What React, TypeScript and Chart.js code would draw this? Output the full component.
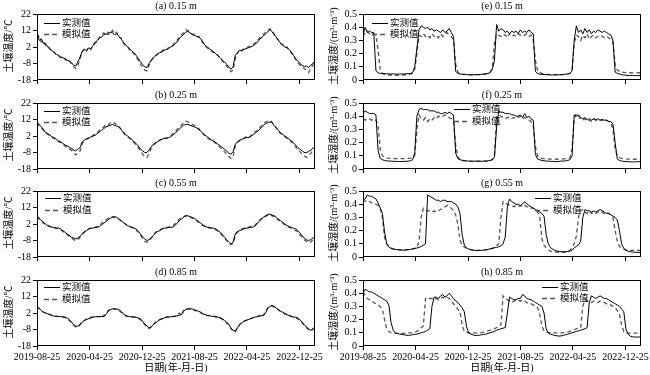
import React, { useEffect, useRef } from 'react';
import { Chart, registerables } from 'chart.js';

Chart.register(...registerables);

// ---------------- data ----------------
// sampling positions: days since 2019-08-25, every 10 days
const dayOffsets: number[] = Array.from({ length: 130 }, (_, i) => i * 10);
const dateTickDays = [0, 244, 488, 731, 974, 1218];
const dateTickLabels = ['2019-08-25', '2020-04-25', '2020-12-25', '2021-08-25', '2022-04-25', '2022-12-25'];
const tempTicks = [-18, -8, 2, 12, 22];
const moistTicks = [0, 0.1, 0.2, 0.3, 0.4, 0.5];

const tempObs015 = [
  11, 6, 7, 4, 4, 2, 0.5, 0, -1.5, -2.5,
  -3, -4, -4.5, -5, -6, -6.5, -7.5, -9, -9.5, -7,
  -4, -0.5, 0.5, 0, 1.5, 1, 3, 4, 6, 7.5,
  8, 9.5, 10, 9.5, 11, 10.5, 9.5, 10, 8.5, 7,
  5, 3.5, 2, 1, -0.5, -1.5, -3, -5, -7, -8.5,
  -10, -10.5, -8, -6, -4.5, -3.5, -2, -1.5, -1, 0,
  0.5, 1, 2, 2.5, 4, 5, 7, 8.5, 9.5, 11,
  11.5, 10.5, 9.5, 9, 8.5, 8, 7, 5, 3, 2,
  1, 0, -1, -2, -3.5, -4.5, -6, -7, -8.5, -10,
  -11.5, -10, -3, -1.5, 0, 0, 0.5, 1, 1.5, 2,
  2.5, 3.5, 4.5, 6, 7.5, 8.5, 10, 11, 12.5, 11.5,
  9.5, 8, 6, 4.5, 3, 2, 1.5, 0.5, -1, -3,
  -5, -6.5, -8, -9, -10, -9.5, -10.5, -9, -8, -6.5,
];
const tempSim015 = [
  10, 8, 5, 6, 3, 3, 1, -0.5, -1, -3,
  -3.5, -4.5, -4, -5.5, -6.5, -6, -8.5, -10, -11, -9,
  -5, -1, 1, -0.5, 2, 0.5, 3.5, 5, 5.5, 8,
  9, 10.5, 9, 11, 10, 12, 10, 11, 8, 7.5,
  4.5, 3, 2.5, 0, -1, -2, -4, -6, -8.5, -10,
  -12, -12.5, -9, -6.5, -4, -3, -2.5, -1, -0.5, 0.5,
  0, 1.5, 2.5, 3, 5, 6, 8, 9.5, 10.5, 12.5,
  12, 11, 10, 9.5, 8, 8.5, 6.5, 4.5, 2.5, 1.5,
  0.5, -0.5, -1.5, -2.5, -3, -5, -6.5, -8, -9.5, -11,
  -13, -12, -5, -2, 0.5, -0.5, 1, 1.5, 2, 2.5,
  3.5, 4, 5.5, 7, 8.5, 9.5, 11, 12, 13, 12,
  10, 7.5, 6.5, 4, 3.5, 1.5, 2, 0, -1.5, -3.5,
  -5.5, -7.5, -9, -10.5, -11, -12, -13.5, -11, -9, -7,
];
const tempObs025 = [
  10.5, 9, 7.5, 6, 4, 3.5, 2.5, 1.5, 1, 0,
  -1, -1.5, -2.5, -3.5, -4, -5, -5.5, -6.5, -7, -6,
  -5, -1.5, -0.5, 0.5, 0.5, 1.5, 2, 2.5, 3.5, 4.5,
  5.5, 6.5, 7.5, 8, 8.5, 9, 8.5, 8, 7.5, 6,
  4.5, 3, 2, 1, 0, -1.5, -2.5, -4, -6, -7,
  -8, -8, -6.5, -4.5, -3, -2, -1.5, -0.5, 0, 0.5,
  0.5, 1, 1.5, 2.5, 3.5, 5, 6, 7.5, 8.5, 9,
  9, 8.5, 8, 7.5, 7, 6, 5, 3.5, 2.5, 1.5,
  0.5, -0.5, -1, -2, -3, -4, -5, -6, -7, -8.5,
  -9, -7.5, -3, -1.5, -0.5, 0, 0.5, 1, 1, 1.5,
  2.5, 3.5, 4.5, 5.5, 7, 8.5, 9.5, 10, 10.5, 10,
  8.5, 7, 5.5, 4, 3, 2, 1, 0, -1, -2,
  -3.5, -5, -6, -7, -8, -8, -7.5, -6.5, -5.5, -4.5,
];
const tempSim025 = [
  10, 8, 7, 5.5, 4.5, 3, 2, 1, 0.5, -0.5,
  -1.5, -2, -3, -4, -5, -6, -6.5, -8, -9.5, -8.5,
  -7, -2.5, -1, 0, 1, 1, 2.5, 3, 4, 5.5,
  6.5, 7.5, 9, 8.5, 10, 9.5, 10, 8.5, 8, 6,
  4, 2.5, 1.5, 0.5, -0.5, -2, -3.5, -5, -7, -9,
  -10.5, -11, -8.5, -5.5, -3.5, -2.5, -1.5, -0.5, 0, 1,
  0.5, 1.5, 2, 3.5, 4.5, 6, 7.5, 8.5, 10, 11,
  10.5, 10, 9, 8.5, 7.5, 6.5, 5, 3.5, 2, 1,
  0, -1, -1.5, -2.5, -3.5, -5, -6, -7.5, -9, -10.5,
  -11.5, -10.5, -4, -2, -1, 0, 0.5, 1.5, 1, 2,
  3, 4.5, 5, 6.5, 8, 9, 10.5, 11, 11.5, 10.5,
  9, 7, 5, 3.5, 3, 1.5, 0.5, -0.5, -1.5, -3,
  -4.5, -6, -7.5, -9, -10, -11, -10, -8.5, -7, -5.5,
];
const tempObs055 = [
  7, 5.5, 4, 3, 2, 1, 0.5, 0, 0, -0.5,
  -0.5, -1, -2, -3, -4, -5, -6, -6.5, -7, -6.5,
  -5.5, -4, -2.5, -2, -1, -0.5, -0.5, 0, 0, 0.5,
  1.5, 2.5, 3.5, 4.5, 5.5, 6, 6.5, 6, 5, 4,
  3, 2, 1, 0.5, 0, -0.5, -1, -2.5, -4, -6,
  -7, -8, -7.5, -6.5, -5, -3.5, -2.5, -2, -1, -0.5,
  -0.5, 0, 0, 0, 1, 2.5, 4, 5, 6, 7,
  7, 6.5, 6, 5.5, 4.5, 3.5, 2.5, 1.5, 0.5, 0,
  0, -0.5, -0.5, -1, -2, -3, -4.5, -6, -7.5, -9,
  -10, -9, -4, -2.5, -2, -1.5, -1, -0.5, -0.5, 0,
  0, 0.5, 2, 3.5, 5, 6, 7, 7.5, 8, 7.5,
  7, 6, 5, 4, 3, 2, 1, 0.5, 0, -0.5,
  -1, -2, -3.5, -5, -6.5, -7.5, -8, -7.5, -6.5, -6,
];
const tempSim055 = [
  6.5, 5, 4, 2.5, 1.5, 1, 0.5, 0, -0.5, -0.5,
  -1, -1.5, -2.5, -3.5, -4.5, -5.5, -6.5, -7.5, -8, -7.5,
  -6, -4.5, -3, -1.5, -1, -0.5, 0, 0, 0.5, 1,
  2.5, 3.5, 4.5, 5.5, 6, 6.5, 6, 5.5, 5, 4,
  3, 2, 1, 0.5, 0, -0.5, -1.5, -3, -4.5, -7,
  -8.5, -9, -8, -6.5, -4.5, -3, -2, -1.5, -1, -0.5,
  0, 0, 0.5, 1, 2, 3.5, 5, 6, 6.5, 7,
  6.5, 6, 5.5, 5, 4, 3, 2, 1, 0.5, 0,
  -0.5, -0.5, -1, -1.5, -2.5, -3.5, -5, -6.5, -8, -9.5,
  -10.5, -10, -5, -3, -2, -1, -0.5, 0, 0, 0.5,
  0.5, 1, 2.5, 4, 5, 6, 6.5, 7.5, 8, 7,
  6.5, 5.5, 4.5, 3.5, 2.5, 1.5, 0.5, 0, -0.5, -1,
  -2, -3, -4.5, -6, -7.5, -8.5, -9.5, -9, -7.5, -7,
];
const tempObs085 = [
  6, 5, 3.5, 2.5, 2, 1.5, 1, 0.5, 0, 0,
  -0.2, -0.2, -0.3, -0.5, -1, -2, -3.5, -5, -6, -6,
  -5, -3.5, -2.5, -2, -1.5, -1, -0.5, -0.3, -0.2, -0.2,
  -0.2, 0, 1, 3, 4, 4.5, 4.5, 4.5, 4, 3,
  1.5, 0.5, 0, -0.2, -0.3, -0.5, -0.5, -1, -1.5, -3,
  -4.5, -6, -7, -6.5, -5, -4, -3, -2, -1.5, -1,
  -0.5, -0.5, -0.3, -0.2, 0, 0.3, 0.5, 1, 3, 4,
  4.5, 4.5, 4.5, 4, 3.5, 3, 2.5, 1.5, 1, 0.5,
  0.5, 0, 0, -0.3, -0.5, -0.8, -1.5, -2.5, -3.5, -5,
  -7, -8.5, -9, -7, -5, -4, -3, -2.5, -2, -1.5,
  -1, -0.5, -0.3, 0, 0.3, 0.5, 2, 4.5, 6, 6.5,
  6, 5, 4, 3, 2.5, 1.5, 1, 0.5, 0, -0.5,
  -0.5, -1, -2, -3.5, -5, -6.5, -7.5, -8.5, -7.5, -6.5,
];
const tempSim085 = [
  6, 4.5, 3.5, 2.5, 2, 1.5, 1, 0.5, 0.2, 0,
  0, -0.2, -0.5, -0.8, -1.5, -2.5, -4, -5.5, -6.5, -6.5,
  -5, -3.5, -2.5, -1.5, -1, -0.5, -0.5, -0.3, -0.2, -0.2,
  1, 0, 1.5, 3.5, 4.5, 4.5, 4.5, 4, 3.5, 2.5,
  1.5, 0.5, 0, -0.2, -0.3, -0.5, -0.8, -1.2, -2, -3.5,
  -5, -6.5, -7.5, -6.5, -5, -3.5, -2.5, -2, -1.5, -1,
  -0.5, -0.3, -0.2, 0, 0, 0.3, 2, 0.5, 3.5, 4.5,
  4.5, 4.5, 4, 3.5, 3.5, 3, 2, 1.5, 1, 0.5,
  0.3, 0, 0, -0.3, -0.6, -1, -2, -3, -4, -5.5,
  -7.5, -9, -9.5, -7, -5, -3.5, -3, -2.5, -2, -1.5,
  -1, -0.5, -0.2, 0.3, 1.5, 0.5, 2.5, 5, 6, 6.5,
  5.5, 5, 4, 3, 2.5, 1.5, 1, 0.5, 0, -0.5,
  -1, -1.5, -2.5, -4, -5.5, -7, -8, -9, -8, -7,
];

const moistObs015 = [
  0.34, 0.40, 0.36, 0.37, 0.36, 0.36, 0.07, 0.055, 0.05, 0.05,
  0.048, 0.047, 0.046, 0.045, 0.046, 0.045, 0.044, 0.045, 0.046, 0.045,
  0.047, 0.048, 0.05, 0.055, 0.1, 0.24, 0.38, 0.41, 0.40, 0.39,
  0.40, 0.38, 0.39, 0.37, 0.38, 0.37, 0.36, 0.38, 0.36, 0.37,
  0.39, 0.36, 0.33, 0.065, 0.05, 0.045, 0.044, 0.042, 0.04, 0.04,
  0.038, 0.04, 0.04, 0.042, 0.041, 0.043, 0.045, 0.048, 0.05, 0.055,
  0.08, 0.15, 0.42, 0.37, 0.39, 0.38, 0.36, 0.37, 0.35, 0.37,
  0.36, 0.37, 0.35, 0.38, 0.36, 0.37, 0.36, 0.38, 0.36, 0.35,
  0.065, 0.048, 0.045, 0.043, 0.042, 0.04, 0.04, 0.038, 0.038, 0.04,
  0.039, 0.04, 0.041, 0.042, 0.044, 0.046, 0.05, 0.07, 0.3, 0.41,
  0.36, 0.38, 0.35, 0.39, 0.36, 0.38, 0.35, 0.37, 0.36, 0.38,
  0.37, 0.36, 0.37, 0.36, 0.35, 0.34, 0.3, 0.06, 0.05, 0.045,
  0.04, 0.038, 0.036, 0.035, 0.034, 0.035, 0.033, 0.034, 0.033, 0.034,
];
const moistSim015 = [
  0.33, 0.36, 0.37, 0.35, 0.36, 0.35, 0.34, 0.23, 0.08, 0.05,
  0.042, 0.04, 0.038, 0.038, 0.037, 0.036, 0.036, 0.037, 0.038, 0.038,
  0.04, 0.042, 0.045, 0.05, 0.08, 0.2, 0.34, 0.33, 0.35, 0.33,
  0.34, 0.32, 0.35, 0.33, 0.34, 0.32, 0.35, 0.33, 0.34, 0.36,
  0.34, 0.33, 0.3, 0.12, 0.06, 0.05, 0.045, 0.043, 0.042, 0.04,
  0.04, 0.04, 0.039, 0.04, 0.04, 0.041, 0.042, 0.045, 0.05, 0.06,
  0.09, 0.28, 0.35, 0.34, 0.33, 0.35, 0.34, 0.32, 0.35, 0.33,
  0.34, 0.33, 0.35, 0.34, 0.33, 0.34, 0.35, 0.33, 0.34, 0.3,
  0.15, 0.07, 0.055, 0.05, 0.045, 0.043, 0.042, 0.04, 0.04, 0.04,
  0.039, 0.04, 0.04, 0.041, 0.043, 0.046, 0.05, 0.07, 0.28, 0.34,
  0.33, 0.3, 0.34, 0.32, 0.35, 0.31, 0.33, 0.34, 0.32, 0.33,
  0.34, 0.33, 0.32, 0.33, 0.32, 0.31, 0.28, 0.12, 0.075, 0.065,
  0.06, 0.058, 0.056, 0.055, 0.055, 0.054, 0.055, 0.054, 0.055, 0.055,
];
const moistObs025 = [
  0.42, 0.44, 0.43, 0.42, 0.42, 0.42, 0.41, 0.14, 0.08, 0.07,
  0.065, 0.062, 0.06, 0.06, 0.058, 0.058, 0.057, 0.057, 0.056, 0.058,
  0.058, 0.06, 0.062, 0.07, 0.12, 0.40, 0.45, 0.46, 0.45, 0.45,
  0.45, 0.44, 0.44, 0.44, 0.43, 0.43, 0.42, 0.42, 0.43, 0.42,
  0.43, 0.42, 0.41, 0.12, 0.08, 0.07, 0.066, 0.064, 0.062, 0.06,
  0.06, 0.058, 0.06, 0.06, 0.06, 0.058, 0.06, 0.06, 0.062, 0.065,
  0.07, 0.09, 0.32, 0.44, 0.43, 0.43, 0.42, 0.42, 0.42, 0.41,
  0.41, 0.40, 0.40, 0.41, 0.39, 0.42, 0.39, 0.40, 0.38, 0.37,
  0.11, 0.075, 0.07, 0.065, 0.062, 0.06, 0.06, 0.058, 0.058, 0.056,
  0.056, 0.058, 0.06, 0.06, 0.062, 0.065, 0.07, 0.1, 0.41, 0.40,
  0.41, 0.39, 0.38, 0.39, 0.375, 0.38, 0.37, 0.38, 0.375, 0.38,
  0.37, 0.375, 0.37, 0.37, 0.36, 0.36, 0.34, 0.2, 0.075, 0.065,
  0.06, 0.058, 0.056, 0.055, 0.055, 0.054, 0.054, 0.055, 0.055, 0.056,
];
const moistSim025 = [
  0.38, 0.37, 0.38, 0.38, 0.37, 0.38, 0.37, 0.33, 0.15, 0.1,
  0.09, 0.085, 0.082, 0.08, 0.08, 0.078, 0.078, 0.078, 0.078, 0.078,
  0.08, 0.08, 0.082, 0.085, 0.1, 0.3, 0.41, 0.38, 0.37, 0.39,
  0.36, 0.38, 0.37, 0.39, 0.38, 0.40, 0.39, 0.40, 0.41, 0.40,
  0.39, 0.38, 0.36, 0.18, 0.09, 0.07, 0.065, 0.062, 0.06, 0.06,
  0.058, 0.058, 0.058, 0.058, 0.058, 0.06, 0.06, 0.06, 0.062, 0.065,
  0.07, 0.1, 0.39, 0.41, 0.40, 0.39, 0.38, 0.39, 0.39, 0.38,
  0.39, 0.38, 0.39, 0.40, 0.38, 0.39, 0.38, 0.37, 0.36, 0.33,
  0.17, 0.1, 0.085, 0.08, 0.078, 0.076, 0.075, 0.075, 0.074, 0.074,
  0.074, 0.075, 0.075, 0.076, 0.078, 0.08, 0.085, 0.15, 0.38, 0.42,
  0.40, 0.38, 0.37, 0.38, 0.36, 0.37, 0.36, 0.38, 0.37, 0.36,
  0.37, 0.37, 0.36, 0.37, 0.36, 0.35, 0.3, 0.15, 0.1, 0.085,
  0.08, 0.078, 0.076, 0.075, 0.075, 0.075, 0.074, 0.074, 0.075, 0.075,
];
const moistObs055 = [
  0.43, 0.44, 0.47, 0.46, 0.46, 0.45, 0.44, 0.41, 0.37, 0.33,
  0.19, 0.1, 0.076, 0.065, 0.06, 0.058, 0.055, 0.054, 0.052, 0.052,
  0.054, 0.056, 0.058, 0.062, 0.065, 0.068, 0.072, 0.08, 0.09, 0.1,
  0.47, 0.46, 0.45, 0.44, 0.43, 0.43, 0.42, 0.43, 0.43, 0.42,
  0.42, 0.42, 0.41, 0.40, 0.38, 0.33, 0.17, 0.09, 0.07, 0.06,
  0.055, 0.052, 0.05, 0.05, 0.05, 0.05, 0.052, 0.055, 0.058, 0.062,
  0.065, 0.07, 0.072, 0.078, 0.085, 0.1, 0.15, 0.38, 0.44, 0.42,
  0.41, 0.40, 0.40, 0.39, 0.40, 0.42, 0.40, 0.39, 0.38, 0.37,
  0.36, 0.35, 0.34, 0.33, 0.31, 0.17, 0.1, 0.07, 0.06, 0.05,
  0.045, 0.042, 0.04, 0.04, 0.04, 0.042, 0.045, 0.05, 0.07, 0.08,
  0.09, 0.12, 0.3, 0.36, 0.35, 0.35, 0.34, 0.35, 0.34, 0.35,
  0.36, 0.35, 0.34, 0.33, 0.33, 0.32, 0.31, 0.3, 0.28, 0.2,
  0.1, 0.065, 0.05, 0.045, 0.04, 0.038, 0.036, 0.035, 0.035, 0.035,
];
const moistSim055 = [
  0.43, 0.42, 0.43, 0.42, 0.41, 0.41, 0.40, 0.39, 0.37, 0.30,
  0.15, 0.1, 0.08, 0.07, 0.062, 0.058, 0.056, 0.055, 0.054, 0.054,
  0.055, 0.056, 0.058, 0.06, 0.065, 0.07, 0.12, 0.3, 0.37, 0.36,
  0.35, 0.35, 0.34, 0.35, 0.34, 0.35, 0.36, 0.37, 0.38, 0.39,
  0.38, 0.37, 0.35, 0.32, 0.25, 0.13, 0.09, 0.075, 0.065, 0.06,
  0.056, 0.054, 0.052, 0.05, 0.05, 0.05, 0.052, 0.054, 0.056, 0.06,
  0.065, 0.075, 0.085, 0.1, 0.3, 0.42, 0.41, 0.40, 0.39, 0.39,
  0.38, 0.39, 0.38, 0.39, 0.38, 0.39, 0.38, 0.38, 0.37, 0.37,
  0.36, 0.34, 0.3, 0.14, 0.09, 0.07, 0.055, 0.045, 0.04, 0.038,
  0.037, 0.036, 0.036, 0.036, 0.038, 0.04, 0.05, 0.07, 0.1, 0.16,
  0.3, 0.35, 0.36, 0.34, 0.33, 0.35, 0.33, 0.34, 0.33, 0.34,
  0.35, 0.34, 0.33, 0.34, 0.33, 0.32, 0.30, 0.2, 0.12, 0.08,
  0.065, 0.06, 0.055, 0.052, 0.05, 0.05, 0.05, 0.05, 0.05, 0.05,
];
const moistObs085 = [
  0.40, 0.43, 0.42, 0.41, 0.41, 0.40, 0.39, 0.38, 0.37, 0.36,
  0.35, 0.34, 0.31, 0.18, 0.12, 0.1, 0.095, 0.09, 0.088, 0.085,
  0.082, 0.08, 0.082, 0.085, 0.088, 0.09, 0.095, 0.1, 0.105, 0.11,
  0.12, 0.13, 0.3, 0.37, 0.37, 0.36, 0.38, 0.39, 0.37, 0.38,
  0.40, 0.38, 0.36, 0.34, 0.33, 0.31, 0.29, 0.26, 0.15, 0.1,
  0.09, 0.085, 0.08, 0.08, 0.082, 0.085, 0.088, 0.09, 0.095, 0.1,
  0.105, 0.11, 0.12, 0.125, 0.13, 0.135, 0.14, 0.25, 0.37, 0.36,
  0.35, 0.35, 0.36, 0.36, 0.39, 0.38, 0.36, 0.355, 0.35, 0.34,
  0.33, 0.32, 0.31, 0.30, 0.25, 0.13, 0.1, 0.09, 0.085, 0.08,
  0.077, 0.075, 0.077, 0.08, 0.085, 0.09, 0.095, 0.1, 0.105, 0.11,
  0.115, 0.12, 0.125, 0.13, 0.14, 0.33, 0.38, 0.37, 0.36, 0.37,
  0.38, 0.37, 0.36, 0.36, 0.35, 0.34, 0.33, 0.32, 0.31, 0.30,
  0.28, 0.26, 0.13, 0.09, 0.075, 0.07, 0.068, 0.068, 0.068, 0.068,
];
const moistSim085 = [
  0.41, 0.38, 0.36, 0.35, 0.34, 0.33, 0.32, 0.31, 0.30, 0.28,
  0.2, 0.13, 0.11, 0.1, 0.098, 0.096, 0.095, 0.095, 0.095, 0.096,
  0.098, 0.1, 0.1, 0.1, 0.105, 0.11, 0.125, 0.14, 0.15, 0.36,
  0.37, 0.36, 0.36, 0.35, 0.36, 0.35, 0.36, 0.37, 0.36, 0.37,
  0.36, 0.34, 0.32, 0.3, 0.28, 0.26, 0.16, 0.11, 0.105, 0.1,
  0.1, 0.1, 0.1, 0.1, 0.1, 0.102, 0.105, 0.11, 0.115, 0.12,
  0.125, 0.13, 0.14, 0.15, 0.16, 0.38, 0.36, 0.35, 0.34, 0.33,
  0.34, 0.35, 0.35, 0.34, 0.35, 0.34, 0.33, 0.32, 0.32, 0.31,
  0.30, 0.29, 0.24, 0.15, 0.115, 0.105, 0.1, 0.1, 0.1, 0.1,
  0.1, 0.1, 0.1, 0.1, 0.102, 0.105, 0.11, 0.12, 0.125, 0.13,
  0.135, 0.14, 0.3, 0.35, 0.34, 0.34, 0.33, 0.34, 0.34, 0.33,
  0.34, 0.33, 0.33, 0.32, 0.32, 0.31, 0.30, 0.29, 0.27, 0.24,
  0.16, 0.11, 0.1, 0.098, 0.097, 0.097, 0.097, 0.097, 0.097, 0.097,
];

const seriesNames = ['实测值', '模拟值'];
const tempAxisTitle = '土壤温度/℃';
const moistAxisTitle = '土壤湿度/(m³·m⁻³)';
const dateAxisTitle = '日期(年-月-日)';

// ---------------- layout ----------------
const SERIF = '"Liberation Serif", "Times New Roman", "Noto Sans CJK SC", serif';
const CJK = '"Liberation Serif", "Noto Sans CJK SC", sans-serif';
const ROW_TOPS = [14, 103, 191, 280];
const PLOT_H = 66;
const TOP_PAD = 14;

type PanelCfg = {
  title: string; col: number; row: number; kind: 'temp' | 'moist';
  obs: number[]; sim: number[]; lg: { tx: number; ty: number; gap: number };
};

const panels: PanelCfg[] = [
  { title: '(a) 0.15 m', col: 0, row: 0, kind: 'temp', obs: tempObs015, sim: tempSim015, lg: { tx: 25, ty: 9, gap: 10.5 } },
  { title: '(b) 0.25 m', col: 0, row: 1, kind: 'temp', obs: tempObs025, sim: tempSim025, lg: { tx: 25, ty: 8, gap: 11 } },
  { title: '(c) 0.55 m', col: 0, row: 2, kind: 'temp', obs: tempObs055, sim: tempSim055, lg: { tx: 26, ty: 7, gap: 12 } },
  { title: '(d) 0.85 m', col: 0, row: 3, kind: 'temp', obs: tempObs085, sim: tempSim085, lg: { tx: 25, ty: 7, gap: 12 } },
  { title: '(e) 0.15 m', col: 1, row: 0, kind: 'moist', obs: moistObs015, sim: moistSim015, lg: { tx: 27, ty: 9, gap: 11 } },
  { title: '(f) 0.25 m', col: 1, row: 1, kind: 'moist', obs: moistObs025, sim: moistSim025, lg: { tx: 109, ty: 6, gap: 12 } },
  { title: '(g) 0.55 m', col: 1, row: 2, kind: 'moist', obs: moistObs055, sim: moistSim055, lg: { tx: 190, ty: 7, gap: 12 } },
  { title: '(h) 0.85 m', col: 1, row: 3, kind: 'moist', obs: moistObs085, sim: moistSim085, lg: { tx: 197, ty: 7, gap: 11 } },
];

function Panel({ cfg }: { cfg: PanelCfg }) {
  const ref = useRef<HTMLCanvasElement | null>(null);
  const isBottom = cfg.row === 3;
  const canvasLeft = cfg.col === 0 ? 0 : 325;
  const yW = cfg.col === 0 ? 37 : 38;
  const padRight = cfg.col === 0 ? 10 : 9;
  const xH = isBottom ? 29 : 6;
  const canvasTop = ROW_TOPS[cfg.row] - TOP_PAD;
  const canvasH = TOP_PAD + PLOT_H + xH;
  const canvasW = 325;

  useEffect(() => {
    if (!ref.current) return;
    const isTemp = cfg.kind === 'temp';
    const yTicks = isTemp ? tempTicks : moistTicks;
    const tickFont = { family: SERIF, size: 10 };

    const decor = {
      id: 'decor',
      afterDraw(chart: any) {
        const { ctx, chartArea: a } = chart;
        ctx.save();
        ctx.strokeStyle = '#000';
        ctx.lineWidth = 1;
        ctx.setLineDash([]);
        ctx.strokeRect(a.left + 0.5, a.top + 0.5, a.right - a.left - 1, a.bottom - a.top - 1);
        ctx.fillStyle = '#000';
        // panel title
        ctx.font = `10px ${SERIF}`;
        ctx.textAlign = 'center';
        ctx.textBaseline = 'middle';
        ctx.fillText(cfg.title, (a.left + a.right) / 2, a.top - 8);
        // y axis title
        ctx.save();
        ctx.translate(9, (a.top + a.bottom) / 2 - 1);
        ctx.rotate(-Math.PI / 2);
        ctx.font = `10px ${CJK}`;
        ctx.fillText(isTemp ? tempAxisTitle : moistAxisTitle, 0, 0);
        ctx.restore();
        // x axis title
        if (isBottom) {
          ctx.font = `10px ${CJK}`;
          ctx.fillText(dateAxisTitle, (a.left + a.right) / 2, a.bottom + 22);
        }
        // legend
        const { tx, ty, gap } = cfg.lg;
        const lx0 = a.left + tx - 18;
        const lx1 = a.left + tx - 2;
        for (let k = 0; k < 2; k++) {
          const y = Math.round(a.top + ty + k * gap) + 0.5;
          ctx.beginPath();
          ctx.strokeStyle = k === 0 ? '#000' : '#555';
          ctx.lineWidth = k === 0 ? 1 : 1.3;
          ctx.setLineDash(k === 0 ? [] : [5, 3]);
          ctx.moveTo(lx0, y);
          ctx.lineTo(lx1, y);
          ctx.stroke();
          ctx.setLineDash([]);
          ctx.font = `9.5px ${CJK}`;
          ctx.textAlign = 'left';
          ctx.textBaseline = 'middle';
          ctx.fillStyle = '#000';
          ctx.fillText(seriesNames[k], a.left + tx, y);
        }
        ctx.restore();
      },
    };

    const chart = new Chart(ref.current, {
      type: 'line',
      data: {
        datasets: [
          {
            label: seriesNames[0],
            data: dayOffsets.map((d, i) => ({ x: d, y: cfg.obs[i] })),
            borderColor: '#000',
            borderWidth: 1,
            pointRadius: 0,
            tension: 0,
            fill: false,
          },
          {
            label: seriesNames[1],
            data: dayOffsets.map((d, i) => ({ x: d, y: cfg.sim[i] })),
            borderColor: '#555',
            borderWidth: 1.3,
            borderDash: [4, 3],
            pointRadius: 0,
            tension: 0,
            fill: false,
          },
        ],
      },
      options: {
        animation: false,
        responsive: false,
        maintainAspectRatio: false,
        devicePixelRatio: 1,
        events: [],
        layout: { padding: { top: TOP_PAD, right: padRight, left: 0, bottom: 0 } },
        plugins: { legend: { display: false }, tooltip: { enabled: false }, title: { display: false } },
        scales: {
          x: {
            type: 'linear',
            min: 0,
            max: 1290,
            afterBuildTicks: (s: any) => { s.ticks = dateTickDays.map((v) => ({ value: v })); },
            afterFit: (s: any) => { s.height = xH; s.paddingLeft = 0; s.paddingRight = 0; },
            ticks: {
              autoSkip: false,
              maxRotation: 0,
              minRotation: 0,
              padding: 1,
              color: '#000',
              font: tickFont,
              callback: (_v: any, i: number) => (isBottom ? dateTickLabels[i] : ''),
            },
            grid: { drawOnChartArea: false, drawTicks: true, tickLength: 4, color: '#000', lineWidth: 1 },
            border: { display: false },
          },
          y: {
            type: 'linear',
            min: yTicks[0],
            max: yTicks[yTicks.length - 1],
            afterBuildTicks: (s: any) => { s.ticks = yTicks.map((v) => ({ value: v })); },
            afterFit: (s: any) => { s.width = yW; s.paddingTop = 0; s.paddingBottom = 0; },
            ticks: {
              autoSkip: false,
              padding: 2,
              color: '#000',
              font: tickFont,
              callback: (_v: any, i: number) => {
                const v = yTicks[i];
                return isTemp ? String(v) : v === 0 ? '0' : v.toFixed(1);
              },
            },
            grid: { drawOnChartArea: false, drawTicks: true, tickLength: 4, color: '#000', lineWidth: 1 },
            border: { display: false },
          },
        },
      },
      plugins: [decor],
    } as any);
    return () => chart.destroy();
  }, []);

  return (
    <canvas
      ref={ref}
      width={canvasW}
      height={canvasH}
      style={{ position: 'absolute', left: canvasLeft, top: canvasTop, width: canvasW, height: canvasH }}
    />
  );
}

export default function App() {
  return (
    <div style={{ position: 'absolute', left: 0, top: 0, width: 650, height: 375, background: '#fff', overflow: 'hidden' }}>
      {panels.map((p) => (
        <Panel key={p.title} cfg={p} />
      ))}
    </div>
  );
}
